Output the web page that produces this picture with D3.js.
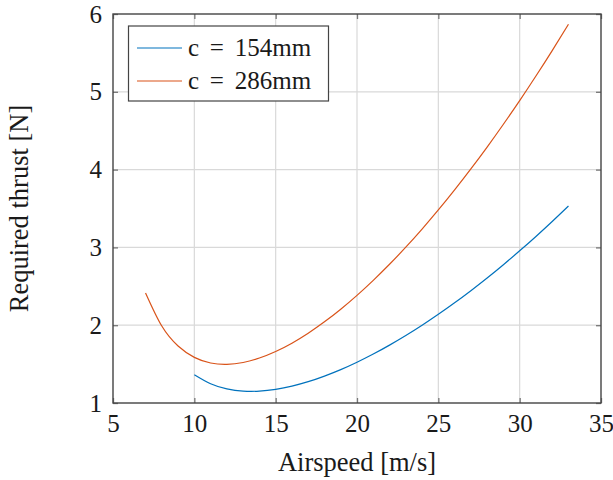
<!DOCTYPE html>
<html>
<head>
<meta charset="utf-8">
<script src="https://cdn.jsdelivr.net/npm/d3@7"></script>
<style>
  html, body { margin: 0; padding: 0; background: #fff; }
  svg { display: block; }
</style>
</head>
<body>
<svg id="chart" width="613" height="480"></svg>
<script>
// Airspeed samples [m/s] and required thrust [N] for two chord lengths
const speedsSmall = [10, 11, 12, 13, 14, 15, 16, 17, 18, 19, 20, 21, 22, 23, 24, 25, 26, 27, 28, 29, 30, 31, 32, 33];
const thrustSmall = [1.364, 1.248, 1.182, 1.153, 1.153, 1.176, 1.217, 1.274, 1.346, 1.429, 1.524, 1.629, 1.744, 1.867, 1.999, 2.140, 2.288, 2.444, 2.607, 2.778, 2.956, 3.141, 3.333, 3.532];

const speedsLarge = [7, 8, 9, 10, 11, 12, 13, 14, 15, 16, 17, 18, 19, 20, 21, 22, 23, 24, 25, 26, 27, 28, 29, 30, 31, 32, 33];
const thrustLarge = [2.415, 1.989, 1.733, 1.586, 1.514, 1.497, 1.521, 1.578, 1.662, 1.769, 1.897, 2.043, 2.206, 2.384, 2.577, 2.783, 3.003, 3.236, 3.481, 3.739, 4.009, 4.290, 4.583, 4.887, 5.203, 5.530, 5.869];

const seriesNames = ["c = 154mm", "c = 286mm"];
const seriesColors = ["#0072BD", "#D95319"];

const xTicks = [5, 10, 15, 20, 25, 30, 35];
const yTicks = [1, 2, 3, 4, 5, 6];
const xTitle = "Airspeed [m/s]";
const yTitle = "Required thrust [N]";

const FONT = "'Liberation Serif', 'Times New Roman', Times, serif";
const INK = "#1a1a1a";

const series = [
  { name: seriesNames[0], color: seriesColors[0], pts: speedsSmall.map((v, i) => [v, thrustSmall[i]]) },
  { name: seriesNames[1], color: seriesColors[1], pts: speedsLarge.map((v, i) => [v, thrustLarge[i]]) }
];

const svg = d3.select("#chart");
const box = { left: 113, right: 601, top: 14, bottom: 403 };

const x = d3.scaleLinear().domain([5, 35]).range([box.left, box.right]);
const y = d3.scaleLinear().domain([1, 6]).range([box.bottom, box.top]);

// grid
const grid = svg.append("g");
grid.selectAll("line.gx").data(xTicks.slice(1, -1)).join("line")
  .attr("x1", d => x(d)).attr("x2", d => x(d))
  .attr("y1", box.top).attr("y2", box.bottom)
  .attr("stroke", "#d9d9d9").attr("stroke-width", 1.2);
grid.selectAll("line.gy").data(yTicks.slice(1, -1)).join("line")
  .attr("y1", d => y(d)).attr("y2", d => y(d))
  .attr("x1", box.left).attr("x2", box.right)
  .attr("stroke", "#d9d9d9").attr("stroke-width", 1.2);

// axes with inward ticks, mirrored on top and right
const tickLen = 5;
const fmt = d3.format("d");
const mkAxis = (gen, tf) => svg.append("g").attr("transform", tf).call(gen)
  .call(g => g.select(".domain").remove())
  .call(g => g.selectAll(".tick line").attr("stroke", "#777").attr("stroke-width", 1.3))
  .call(g => g.selectAll("text").style("font-family", FONT).style("font-size", "25px").attr("fill", INK));

mkAxis(d3.axisBottom(x).tickValues(xTicks).tickFormat(fmt).tickSize(-tickLen).tickPadding(11), `translate(0,${box.bottom})`);
mkAxis(d3.axisTop(x).tickValues(xTicks).tickSize(-tickLen).tickFormat(""), `translate(0,${box.top})`);
mkAxis(d3.axisLeft(y).tickValues(yTicks).tickFormat(fmt).tickSize(-tickLen).tickPadding(11), `translate(${box.left},0)`);
mkAxis(d3.axisRight(y).tickValues(yTicks).tickSize(-tickLen).tickFormat(""), `translate(${box.right},0)`);

// curves
const line = d3.line().x(d => x(d[0])).y(d => y(d[1])).curve(d3.curveNatural);
svg.append("g").selectAll("path").data(series).join("path")
  .attr("d", d => line(d.pts))
  .attr("fill", "none")
  .attr("stroke", d => d.color)
  .attr("stroke-width", 1.2);

// frame
svg.append("rect")
  .attr("x", box.left).attr("y", box.top)
  .attr("width", box.right - box.left).attr("height", box.bottom - box.top)
  .attr("fill", "none").attr("stroke", "#444").attr("stroke-width", 1.4);

// axis titles
svg.append("text")
  .attr("x", (box.left + box.right) / 2).attr("y", 471)
  .attr("text-anchor", "middle")
  .style("font-family", FONT).style("font-size", "26.5px").attr("fill", INK)
  .text(xTitle);
svg.append("text")
  .attr("transform", `translate(28,${(box.top + box.bottom) / 2}) rotate(-90)`)
  .attr("text-anchor", "middle")
  .style("font-family", FONT).style("font-size", "26.5px").attr("fill", INK)
  .text(yTitle);

// legend
const lg = svg.append("g");
lg.append("rect")
  .attr("x", 128.5).attr("y", 26).attr("width", 200).attr("height", 75)
  .attr("fill", "#fff").attr("stroke", "#444").attr("stroke-width", 1.2);
const rowY = [48, 81];
series.forEach((s, i) => {
  lg.append("line")
    .attr("x1", 137).attr("x2", 182).attr("y1", rowY[i]).attr("y2", rowY[i])
    .attr("stroke", s.color).attr("stroke-width", 1.2);
  lg.append("text")
    .attr("x", 188).attr("y", rowY[i] + 8)
    .style("font-family", FONT).style("font-size", "25px")
    .style("word-spacing", "4.5px").attr("fill", INK)
    .text(s.name);
});
</script>
</body>
</html>
